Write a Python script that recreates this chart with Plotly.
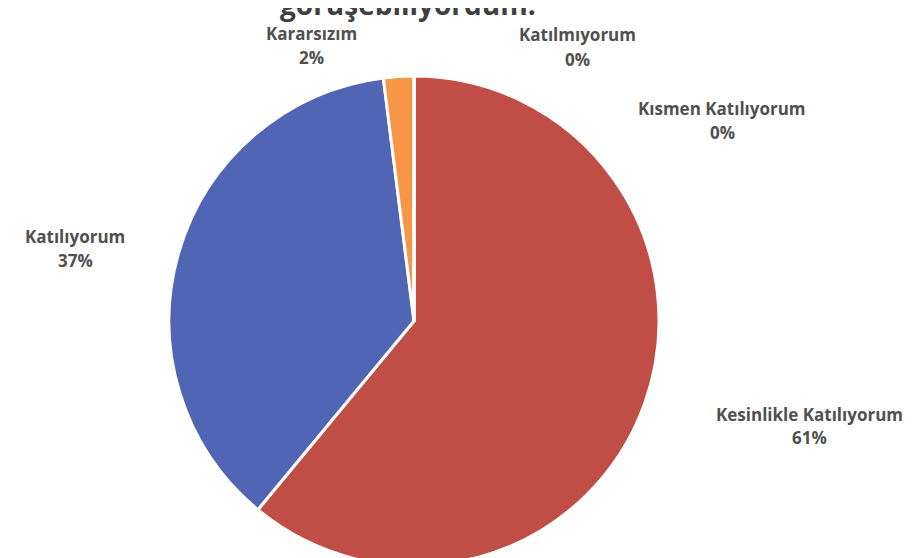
import plotly.graph_objects as go

# answers and their share (%), in clockwise order from 12 o'clock
labels = ["Kesinlikle Katılıyorum", "Katılıyorum", "Kararsızım", "Katılmıyorum", "Kısmen Katılıyorum"]
values = [61, 37, 2, 0, 0]
colors = ["#C04E46", "#5066B4", "#F79646", "#9BBB59", "#8064A2"]

title_text = "görüşebiliyordum."

# where the Excel-style data labels sit (pixels from top-left)
label_pos = {
    "Kesinlikle Katılıyorum": (801, 406),
    "Katılıyorum": (67, 228),
    "Kararsızım": (303, 25),
    "Katılmıyorum": (569, 27),
    "Kısmen Katılıyorum": (714, 100),
}

W, H = 912, 558
cx, r = 406, 245

fig = go.Figure(go.Pie(
    labels=labels,
    values=values,
    sort=False,
    direction="clockwise",
    rotation=0,
    marker=dict(colors=colors, line=dict(color="white", width=3)),
    textinfo="none",
    hoverinfo="label+percent",
    showlegend=False,
    domain=dict(x=[(cx - r) / W, (cx + r) / W], y=[0, 2 * r / H]),
))

total = sum(values)
annotations = []
for lab, val in zip(labels, values):
    px_, py_ = label_pos[lab]
    pct = round(100 * val / total)
    for txt, dy in [(f"<b>{lab}</b>", 0), (f"<b>{pct}%</b>", 24)]:
        annotations.append(dict(
            x=px_ / W, y=1 - (py_ + dy) / H, xref="paper", yref="paper",
            text=txt, showarrow=False, xanchor="center", yanchor="middle",
            font=dict(family="Open Sans", size=17, color="#505050"),
        ))

# title is cut off at the top of the picture
annotations.append(dict(
    x=400 / W, y=1, xref="paper", yref="paper", text=f"<b>{title_text}</b>",
    showarrow=False, xanchor="center", yanchor="middle", yshift=4,
    font=dict(family="Open Sans", size=28, color="#404040"),
))

fig.update_layout(
    width=W, height=H,
    margin=dict(l=0, r=0, t=0, b=0),
    paper_bgcolor="white",
    annotations=annotations,
)

fig.write_html("out.html")
